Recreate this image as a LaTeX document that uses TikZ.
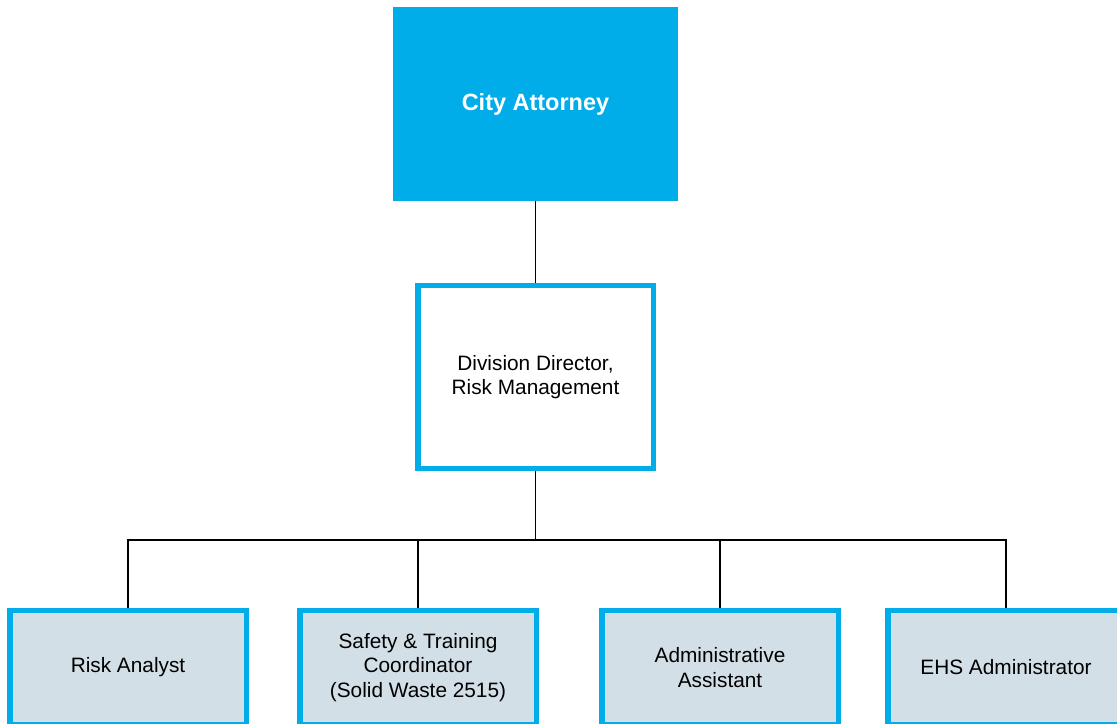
\documentclass[tikz,border=0pt]{standalone}
\usepackage{fontspec}
\setmainfont{Liberation Sans}
\usepackage{tikz}
\usetikzlibrary{positioning}
\definecolor{orgcyan}{HTML}{00ADE9}
\definecolor{orgpale}{HTML}{D3DFE7}
\tikzset{every node/.append style={font=\fontsize{14.8}{17.4}\selectfont}}
\tikzset{headbox/.style={rectangle,fill=orgcyan,text=white,minimum width=7.1cm,minimum height=4.85cm,
  font=\fontsize{16.7}{19}\selectfont\bfseries}}
\tikzset{leadbox/.style={rectangle,draw=orgcyan,line width=3.6pt,fill=white,align=center,
  minimum width=5.875cm,minimum height=4.575cm}}
\tikzset{staffbox/.style={rectangle,draw=orgcyan,line width=3.6pt,fill=orgpale,align=center,
  minimum width=5.9cm,minimum height=2.85cm}}
\tikzset{link/.style={line width=1.3pt}}

\begin{document}
\begin{tikzpicture}[x=0.025cm,y=-0.025cm]
\useasboundingbox (0,0) rectangle (1117,723);
\clip (0,0) rectangle (1117,723);
\node[headbox] (ca) at (535.5,104) {City Attorney};
\node[leadbox] (dd) at (535.5,377) {Division Director,\\Risk Management};
\node[staffbox] (ra) at (128,667.5) {Risk Analyst};
\node[staffbox] (stc) at (418,667.5) {Safety \& Training\\Coordinator\\(Solid Waste 2515)};
\node[staffbox] (aa) at (720,667.5) {Administrative\\Assistant};
\node[staffbox] (ehs) at (1006,667.5) {EHS Administrator};
\coordinate (bus) at (535.5,540);
\draw[link] (ca.south) -- (dd.north);
\draw[link] (dd.south) -- (bus);
\foreach \n in {ra,stc,aa,ehs}
  \draw[link] (bus) -| (\n.north);
\end{tikzpicture}
\end{document}
